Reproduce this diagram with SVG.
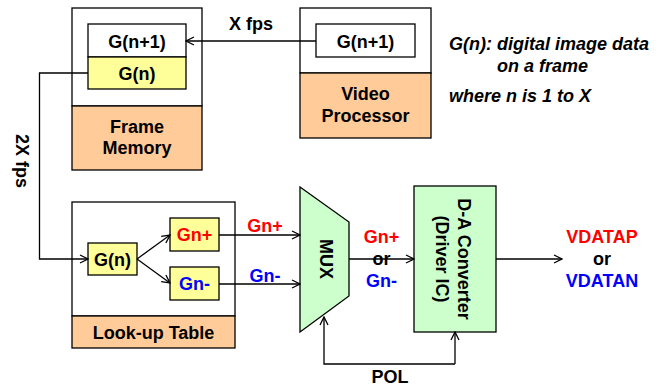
<svg xmlns="http://www.w3.org/2000/svg" width="672" height="387" viewBox="0 0 672 387">
<style>
text{font-family:"Liberation Sans",Arial,sans-serif;font-weight:bold;font-size:18px;fill:#000;text-anchor:middle}
.box{stroke:#000;stroke-width:1.3}
.w{fill:#fff}.o{fill:#FFCC99}.y{fill:#FFFF99}.g{fill:#CCFFCC}
.ln{fill:none;stroke:#000;stroke-width:1.3}
.r{fill:#FF0000}.b{fill:#0000FF}
.it{font-style:italic;text-anchor:start}
</style>
<defs>
<marker id="ah" markerWidth="10" markerHeight="10" refX="9" refY="5" orient="auto" markerUnits="userSpaceOnUse">
<path d="M1,1 L9,5 L1,9" fill="none" stroke="#000" stroke-width="1.3"/>
</marker>
</defs>
<g id="frame-memory">
<rect class="box w" x="72" y="8" width="130" height="98"/>
<rect class="box o" x="72" y="106" width="130" height="64"/>
<rect class="box w" x="88" y="24" width="98" height="33"/>
<rect class="box y" x="88" y="57" width="98" height="32"/>
<text x="137" y="47.5">G(n+1)</text>
<text x="137" y="79.5">G(n)</text>
<text x="137" y="133">Frame</text>
<text x="137" y="153.5">Memory</text>
</g>
<g id="video-processor">
<rect class="box w" x="300" y="8" width="131" height="65"/>
<rect class="box o" x="300" y="73" width="131" height="65"/>
<rect class="box w" x="316" y="24" width="99" height="33"/>
<text x="365.5" y="47.5">G(n+1)</text>
<text x="365.5" y="99.5">Video</text>
<text x="365.5" y="121.5">Processor</text>
</g>
<g id="legend">
<text class="it" x="449" y="50">G(n): digital image data</text>
<text class="it" x="497" y="71.5">on a frame</text>
<text class="it" x="449" y="102">where n is 1 to X</text>
</g>
<g id="lookup-table">
<rect class="box w" x="72" y="202" width="163" height="114"/>
<rect class="box o" x="72" y="316" width="163" height="32"/>
<rect class="box y" x="88" y="243" width="49" height="32"/>
<rect class="box y" x="170" y="218" width="49" height="33"/>
<rect class="box y" x="170" y="267" width="49" height="33"/>
<text x="112.5" y="265.5">G(n)</text>
<text class="r" x="194.5" y="241">Gn+</text>
<text class="b" x="194.5" y="290">Gn-</text>
<text x="153.5" y="338.5">Look-up Table</text>
</g>
<g id="mux">
<path class="box g" d="M300,187 L349,222 L349,296 L300,332 Z"/>
<text transform="translate(326,259) rotate(90)" y="6.5">MUX</text>
</g>
<g id="da-converter">
<rect class="box g" x="414" y="186" width="82" height="146"/>
<text transform="translate(464,259) rotate(90)" y="6.5">D-A Converter</text>
<text transform="translate(442,259) rotate(90)" y="6.5">(Driver IC)</text>
</g>
<g id="connectors">
<path class="ln" d="M316,41 L186,41" marker-end="url(#ah)"/>
<path class="ln" d="M88,73 L39.5,73 L39.5,259 L88,259" marker-end="url(#ah)"/>
<path class="ln" d="M137,259 L170,235" marker-end="url(#ah)"/>
<path class="ln" d="M137,259 L170,283" marker-end="url(#ah)"/>
<path class="ln" d="M219,235 L300,235" marker-end="url(#ah)"/>
<path class="ln" d="M219,284 L300,284" marker-end="url(#ah)"/>
<path class="ln" d="M349,259 L414,259" marker-end="url(#ah)"/>
<path class="ln" d="M496,259 L562,259" marker-end="url(#ah)"/>
<path class="ln" d="M455,364 L455,332" marker-end="url(#ah)"/>
<path class="ln" d="M455,364 L324,364 L324,317" marker-end="url(#ah)"/>
</g>
<g id="labels">
<text x="251" y="30">X fps</text>
<text transform="translate(22,161) rotate(90)" y="6.5">2X fps</text>
<text class="r" x="265" y="232">Gn+</text>
<text class="b" x="265" y="282">Gn-</text>
<text class="r" x="381.5" y="243">Gn+</text>
<text x="381.5" y="265">or</text>
<text class="b" x="381.5" y="287">Gn-</text>
<text class="r" x="602" y="243">VDATAP</text>
<text x="602" y="265">or</text>
<text class="b" x="602" y="287">VDATAN</text>
<text x="390" y="383">POL</text>
</g>
</svg>
